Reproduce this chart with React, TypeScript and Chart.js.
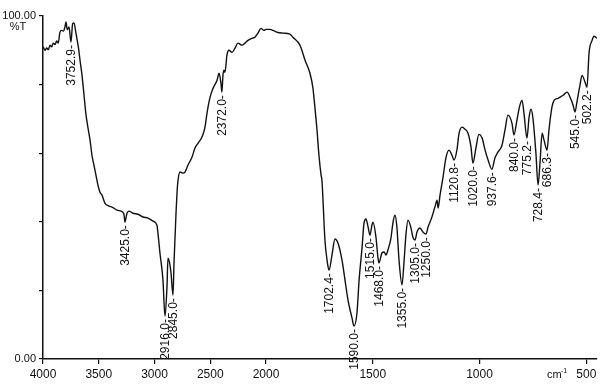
import React, { useEffect, useRef } from 'react';
import { Chart, registerables, LinearScale } from 'chart.js';

Chart.register(...registerables);

// ---- Data (wavenumber in cm-1, transmittance in %T) ----
const WAVENUMBERS = [
  3998, 3982, 3967, 3952, 3937, 3922, 3908, 3892, 3877, 3863, 3848, 3832, 3818, 3803, 3794, 3782, 3767, 3749,
  3734, 3722, 3704, 3683, 3668, 3650, 3632, 3614, 3596, 3578, 3561, 3543, 3525, 3507, 3489, 3471, 3444, 3408,
  3381, 3336, 3300, 3274, 3265, 3247, 3229, 3193, 3148, 3103, 3058, 3013, 2978, 2969, 2951, 2924, 2906, 2888,
  2879, 2861, 2852, 2834, 2825, 2807, 2798, 2789, 2771, 2744, 2726, 2700, 2664, 2637, 2610, 2574, 2547, 2529,
  2502, 2475, 2439, 2421, 2404, 2395, 2386, 2377, 2368, 2350, 2332, 2305, 2278, 2251, 2215, 2188, 2161, 2126,
  2099, 2072, 2045, 2018, 2000,
  1981, 1967, 1944, 1920, 1888, 1874, 1841, 1817, 1794, 1780, 1771, 1761, 1752, 1742, 1738, 1733, 1724, 1714,
  1705, 1691, 1677, 1663, 1644, 1630, 1616, 1597, 1588, 1574, 1564, 1550, 1541, 1532, 1522, 1513, 1504, 1499,
  1485, 1476, 1471, 1457, 1447, 1438, 1429, 1415, 1405, 1396, 1387, 1377, 1363, 1354, 1344, 1335, 1321, 1312,
  1302, 1293, 1279, 1265, 1251, 1241, 1223, 1209, 1199, 1194, 1185, 1171, 1157, 1143, 1129, 1120, 1106, 1096,
  1082, 1068, 1054, 1040, 1031, 1017, 1003, 988, 974, 960, 942, 928, 914, 895, 881, 867, 848, 839, 825, 811,
  801, 792, 778, 768, 759, 750, 736, 726, 717, 707, 698, 684, 675, 661, 651, 633, 609, 590, 576, 562, 553, 544,
  530, 520, 506, 497, 487, 473, 464, 450,
];

const TRANSMITTANCE = [
  91.0, 90.0, 90.7, 90.2, 91.5, 91.0, 92.1, 91.7, 92.7, 92.1, 95.3, 95.8, 95.6, 96.8, 98.3, 96.0, 96.8, 92.4,
  97.8, 98.0, 94.9, 91.0, 87.1, 82.7, 76.9, 71.1, 67.3, 63.8, 59.4, 56.5, 53.6, 50.7, 48.6, 47.8, 45.4, 44.6,
  44.3, 43.4, 43.1, 42.2, 39.9, 42.5, 43.1, 42.5, 42.2, 41.4, 41.1, 40.2, 39.0, 36.7, 30.9, 23.0, 12.5, 21.0,
  29.4, 27.4, 25.1, 18.6, 28.0, 42.5, 48.4, 52.1, 54.5, 54.2, 54.5, 56.5, 58.8, 61.5, 62.9, 64.7, 67.6, 71.7,
  76.3, 78.9, 81.3, 83.3, 80.4, 77.8, 82.7, 84.2, 83.6, 88.6, 90.0, 89.4, 90.6, 92.1, 91.5, 92.1, 92.9, 93.5,
  93.8, 95.0, 96.4, 95.8, 96.1,
  96.1, 95.8, 95.2, 95.0, 94.7, 93.8, 91.5, 87.1, 83.3, 78.9, 73.4, 66.7, 59.4, 53.6, 52.1, 46.3, 34.7, 28.8,
  25.9, 30.3, 35.0, 33.8, 28.8, 23.0, 17.2, 11.9, 9.6, 13.4, 23.0, 32.6, 39.6, 40.8, 38.5, 36.1, 39.0, 39.9,
  35.5, 29.7, 28.0, 30.9, 31.2, 30.3, 31.8, 35.2, 39.9, 41.9, 38.5, 28.8, 21.6, 28.0, 36.7, 40.5, 38.2, 35.5,
  34.7, 37.0, 38.2, 37.0, 36.4, 38.5, 41.4, 44.3, 46.3, 44.0, 47.8, 53.0, 58.8, 60.9, 59.4, 58.0, 60.9, 65.8,
  67.6, 67.0, 65.8, 61.8, 57.1, 61.5, 65.5, 64.4, 60.9, 58.0, 55.3, 58.6, 60.3, 62.3, 66.7, 71.1, 68.7, 65.3, 69.6, 74.0,
  75.4, 71.7, 64.4, 70.5, 72.8, 70.2, 60.0, 50.7, 57.1, 65.8, 63.8, 60.9, 66.7, 73.4, 75.4, 76.0, 76.9, 77.8, 76.3, 74.0, 72.0, 74.9,
  79.8, 82.7, 80.7, 79.2, 89.4, 92.9, 94.1, 93.5,
];

const X_TICKS = [4000, 3500, 3000, 2500, 2000, 1500, 1000, 500];
const Y_TICKS = [0, 20, 40, 60, 80, 100];
const Y_TICK_LABELS = ['0.00', '', '', '', '', '100.00'];

const PEAK_LABELS = [
  '3752.9-', '3425.0-', '2916.0-', '2845.0-', '2372.0-', '1702.4-', '1590.0-', '1515.0-', '1468.0-', '1355.0-',
  '1305.0-', '1250.0-', '1120.8-', '1020.0-', '937.6-', '840.0-', '775.2-', '728.4-', '686.3-', '545.0-', '502.2-',
];
const PEAK_WAVENUMBERS = [
  3749, 3265, 2906, 2834, 2395, 1705, 1588, 1513, 1471, 1363, 1302, 1251, 1120, 1031, 942, 839, 778, 726, 684, 553, 497,
];
const PEAK_TRANSMITTANCE = [
  92.4, 39.9, 12.5, 18.6, 77.8, 25.9, 9.6, 36.1, 28.0, 21.6, 34.7, 36.4, 58.0, 57.1, 55.3, 65.3, 64.4, 50.7, 60.9, 72.0, 79.2,
];

const X_MIN = 450;
const X_MAX = 4000;
const X_BREAK = 2000;
const BREAK_FRACTION = 0.4025;

const FONT = "'Liberation Sans', Arial, Helvetica, sans-serif";
const INK = '#111';

// Piecewise linear (expanded below 2000 cm-1) reversed wavenumber axis
class SplitScale extends (LinearScale as any) {
  static id = 'split';
  static defaults = (LinearScale as any).defaults;
  buildTicks() {
    return X_TICKS.map((v) => ({ value: v }));
  }
  getPixelForValue(value: number) {
    const o: any = (this as any).options;
    const b = o.breakAt ?? X_BREAK;
    const f = o.breakFraction ?? BREAK_FRACTION;
    const max = (this as any).max;
    const min = (this as any).min;
    let frac;
    if (value >= b) frac = ((max - value) / (max - b)) * f;
    else frac = f + ((b - value) / (b - min)) * (1 - f);
    return (this as any).left + frac * (this as any).width;
  }
  getValueForPixel(pixel: number) {
    const o: any = (this as any).options;
    const b = o.breakAt ?? X_BREAK;
    const f = o.breakFraction ?? BREAK_FRACTION;
    const max = (this as any).max;
    const min = (this as any).min;
    const frac = (pixel - (this as any).left) / (this as any).width;
    if (frac <= f) return max - (frac / f) * (max - b);
    return b - ((frac - f) / (1 - f)) * (b - min);
  }
}
Chart.register(SplitScale as any);

const annotationPlugin = {
  id: 'irAnnotations',
  afterDatasetsDraw(chart: any) {
    const ctx = chart.ctx;
    const xs = chart.scales.x;
    const ys = chart.scales.y;
    ctx.save();
    ctx.fillStyle = INK;
    ctx.font = `12px ${FONT}`;
    ctx.textAlign = 'right';
    ctx.textBaseline = 'middle';
    PEAK_LABELS.forEach((label, i) => {
      const px = xs.getPixelForValue(PEAK_WAVENUMBERS[i]);
      const py = ys.getPixelForValue(PEAK_TRANSMITTANCE[i]);
      ctx.save();
      ctx.translate(px + 1, py + 3);
      ctx.rotate(-Math.PI / 2);
      ctx.fillText(label, 0, 0);
      ctx.restore();
    });
    // %T unit label
    ctx.font = `11px ${FONT}`;
    ctx.textAlign = 'center';
    ctx.textBaseline = 'middle';
    ctx.fillText('%T', 18, 27);
    // cm-1 unit label
    ctx.textAlign = 'left';
    ctx.textBaseline = 'alphabetic';
    ctx.font = `11px ${FONT}`;
    ctx.fillText('cm', 547, 378);
    ctx.font = `7px ${FONT}`;
    ctx.fillText('-1', 561, 373);
    ctx.restore();
  },
};

export default function App() {
  const ref = useRef<HTMLCanvasElement>(null);
  useEffect(() => {
    document.body.style.margin = '0';
    const points = WAVENUMBERS.map((w, i) => ({ x: w, y: TRANSMITTANCE[i] }));
    const chart = new Chart(ref.current as HTMLCanvasElement, {
      type: 'line',
      data: {
        datasets: [
          {
            data: points,
            borderColor: INK,
            borderWidth: 1.4,
            pointRadius: 0,
            fill: false,
            cubicInterpolationMode: 'monotone',
          } as any,
        ],
      },
      options: {
        responsive: false,
        animation: false,
        devicePixelRatio: 1,
        layout: { padding: { top: 16, right: 3, left: 0, bottom: 0 } },
        plugins: { legend: { display: false }, tooltip: { enabled: false }, title: { display: false } },
        scales: {
          x: {
            type: 'split' as any,
            min: X_MIN,
            max: X_MAX,
            breakAt: X_BREAK,
            breakFraction: BREAK_FRACTION,
            border: { display: true, color: INK, width: 1.5 },
            grid: { display: true, drawOnChartArea: false, drawTicks: true, tickLength: 5, color: INK, lineWidth: 1.2 },
            ticks: {
              autoSkip: false,
              maxRotation: 0,
              minRotation: 0,
              padding: 3,
              color: INK,
              font: { family: FONT, size: 12 },
              callback: (v: any) => String(v),
            },
            afterFit: (s: any) => {
              s.height = 30;
            },
          } as any,
          y: {
            type: 'linear',
            min: 0,
            max: 100,
            border: { display: true, color: INK, width: 1.5 },
            grid: { display: true, drawOnChartArea: false, drawTicks: true, tickLength: 4, color: INK, lineWidth: 1.2 },
            afterBuildTicks: (s: any) => {
              s.ticks = Y_TICKS.map((v) => ({ value: v }));
            },
            ticks: {
              padding: 3,
              color: INK,
              font: { family: FONT, size: 11 },
              callback: (v: any) => {
                const idx = Y_TICKS.indexOf(Number(v));
                return idx >= 0 ? Y_TICK_LABELS[idx] : '';
              },
            },
            afterFit: (s: any) => {
              s.width = 43;
            },
          } as any,
        },
      },
      plugins: [annotationPlugin],
    });
    return () => chart.destroy();
  }, []);
  return (
    <div style={{ position: 'absolute', left: 0, top: 0, width: 600, height: 389, background: '#fff' }}>
      <canvas ref={ref} width={600} height={389} style={{ display: 'block', width: 600, height: 389 }} />
    </div>
  );
}
